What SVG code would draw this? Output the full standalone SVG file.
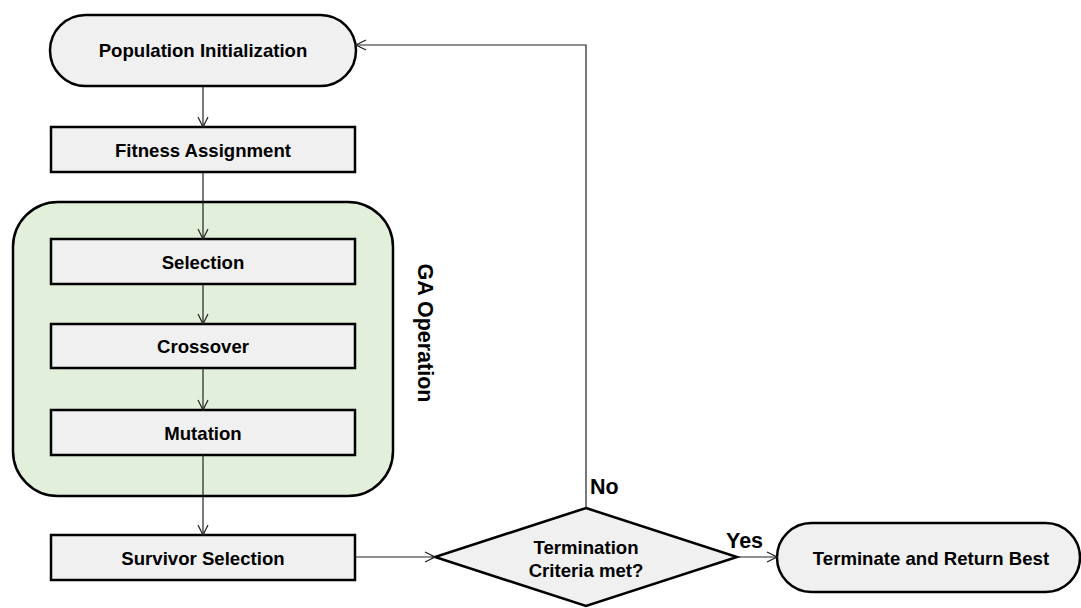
<svg xmlns="http://www.w3.org/2000/svg" width="1081" height="608" viewBox="0 0 1081 608">
<style>
.box{fill:#f0f0f0;stroke:#000;stroke-width:2.5}
.grp{fill:#e2efda;stroke:#000;stroke-width:2.5}
.t{font-family:"Liberation Sans",Arial,sans-serif;font-weight:bold;font-size:18.6px;fill:#000;text-anchor:middle;dominant-baseline:central}
.lbl{font-family:"Liberation Sans",Arial,sans-serif;font-weight:bold;font-size:21.5px;fill:#000}
.c{fill:none;stroke:#222;stroke-width:1.2;marker-end:url(#ah)}
</style>
<defs>
<marker id="ah" viewBox="0 0 12 12" refX="11" refY="6" markerWidth="12" markerHeight="12" markerUnits="userSpaceOnUse" orient="auto">
<path d="M1,1 L11,6 L1,11" fill="none" stroke="#222" stroke-width="1.2"/>
</marker>
</defs>
<rect width="1081" height="608" fill="#fff"/>
<g id="ga-operation">
<rect class="grp" x="13" y="202" width="380" height="294" rx="45"/>
<text class="lbl" transform="translate(425,333) rotate(90)" text-anchor="middle" dominant-baseline="central">GA Operation</text>
</g>
<g id="population-init">
<rect class="box" x="50" y="15" width="306" height="71" rx="35.5"/>
<text class="t" x="203" y="50">Population Initialization</text>
</g>
<g id="fitness">
<rect class="box" x="51" y="127" width="304" height="45"/>
<text class="t" x="203" y="150">Fitness Assignment</text>
</g>
<g id="selection">
<rect class="box" x="51" y="239" width="304" height="45"/>
<text class="t" x="203" y="262">Selection</text>
</g>
<g id="crossover">
<rect class="box" x="51" y="324" width="304" height="44"/>
<text class="t" x="203" y="346">Crossover</text>
</g>
<g id="mutation">
<rect class="box" x="51" y="410" width="304" height="45"/>
<text class="t" x="203" y="433">Mutation</text>
</g>
<g id="survivor">
<rect class="box" x="51" y="535" width="304" height="45"/>
<text class="t" x="203" y="558">Survivor Selection</text>
</g>
<g id="termination">
<polygon class="box" points="586,508 737,557 586,606 435,557"/>
<text class="t" x="586" y="547">Termination</text>
<text class="t" x="586" y="570">Criteria met?</text>
</g>
<g id="terminate">
<rect class="box" x="777" y="523" width="303" height="69" rx="34.5"/>
<text class="t" x="931" y="558">Terminate and Return Best</text>
</g>
<g id="connectors">
<path class="c" d="M203,86 L203,127"/>
<path class="c" d="M203,172 L203,239"/>
<path class="c" d="M203,284 L203,324"/>
<path class="c" d="M203,368 L203,410"/>
<path class="c" d="M203,455 L203,535"/>
<path class="c" d="M355,557 L435,557"/>
<path class="c" d="M586,508 L586,45 L356,45"/>
<path class="c" d="M737,557 L777,557"/>
<text class="lbl" x="590" y="494">No</text>
<text class="lbl" x="726" y="548">Yes</text>
</g>
</svg>
